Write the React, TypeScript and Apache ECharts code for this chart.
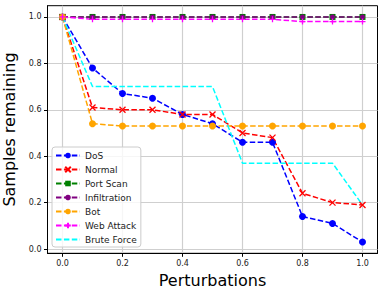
import React, { useEffect, useRef } from "react";
import * as echarts from "echarts";

const perturbations = [0.0, 0.1, 0.2, 0.3, 0.4, 0.5, 0.6, 0.7, 0.8, 0.9, 1.0];
const dos = [1.0, 0.78, 0.67, 0.65, 0.58, 0.54, 0.46, 0.46, 0.14, 0.11, 0.03];
const normal = [1.0, 0.61, 0.6, 0.6, 0.58, 0.58, 0.5, 0.48, 0.24, 0.2, 0.19];
const portScan = [1.0, 1.0, 1.0, 1.0, 1.0, 1.0, 1.0, 1.0, 1.0, 1.0, 1.0];
const infiltration = [1.0, 1.0, 1.0, 1.0, 1.0, 1.0, 1.0, 1.0, 1.0, 1.0, 1.0];
const bot = [1.0, 0.54, 0.53, 0.53, 0.53, 0.53, 0.53, 0.53, 0.53, 0.53, 0.53];
const webAttack = [1.0, 0.99, 0.99, 0.99, 0.99, 0.99, 0.99, 0.99, 0.98, 0.98, 0.98];
const bruteForce = [1.0, 0.7, 0.7, 0.7, 0.7, 0.7, 0.37, 0.37, 0.37, 0.37, 0.19];
const xTicks = [0.0, 0.2, 0.4, 0.6, 0.8, 1.0];
const yTicks = [0.0, 0.2, 0.4, 0.6, 0.8, 1.0];

const FONT = "DejaVu Sans";
const X_SYM = "path://M0,0 L10,10 M10,0 L0,10";
const PLUS_SYM = "path://M5,0 L5,10 M0,5 L10,5";

export default function App() {
  const ref = useRef<HTMLDivElement>(null);
  useEffect(() => {
    if (!ref.current) return;
    const chart = echarts.init(ref.current, undefined, { renderer: "svg" });
    const mk = (name: string, vals: number[], color: string, symbol: string, size: number, stroke = false) => ({
      name,
      type: "line",
      data: perturbations.map((x, i) => [x, vals[i]]),
      symbol,
      symbolSize: size,
      showSymbol: symbol !== "none",
      lineStyle: { color, width: 1.5, type: [5.5, 2.4] },
      itemStyle: stroke
        ? { color, borderColor: color, borderWidth: 1.3 }
        : { color, borderWidth: 0 },
      emphasis: { disabled: true },
    });
    chart.setOption({
      animation: false,
      textStyle: { fontFamily: FONT },
      grid: {
        left: 47.5,
        right: 7.5,
        top: 5.7,
        bottom: 41.7,
        show: true,
        borderColor: "#000",
        borderWidth: 1,
        backgroundColor: "transparent",
        containLabel: false,
        outerBoundsMode: "none",
      },
      xAxis: {
        type: "value",
        min: -0.05,
        max: 1.05,
        name: "Perturbations",
        nameLocation: "middle",
        nameGap: 19.5,
        nameTextStyle: { fontSize: 16, color: "#000", fontFamily: FONT },
        axisLine: { show: true, onZero: false, lineStyle: { color: "#000", width: 1 } },
        axisTick: { show: true, length: 3.5, customValues: xTicks, lineStyle: { color: "#000" } },
        axisLabel: {
          customValues: xTicks,
          fontSize: 8,
          color: "#222",
          margin: 6,
          formatter: (v: number) => v.toFixed(1),
        },
        splitLine: { show: true, lineStyle: { color: "#cfcfcf", width: 1.2 } },
      },
      yAxis: {
        type: "value",
        min: -0.0185,
        max: 1.0485,
        name: "Samples remaining",
        nameLocation: "middle",
        nameGap: 23.5,
        nameTextStyle: { fontSize: 16, color: "#000", fontFamily: FONT },
        axisLine: { show: true, onZero: false, lineStyle: { color: "#000", width: 1 } },
        axisTick: { show: true, length: 3.5, customValues: yTicks, lineStyle: { color: "#000" } },
        axisLabel: {
          customValues: yTicks,
          fontSize: 8,
          color: "#222",
          margin: 6,
          formatter: (v: number) => v.toFixed(1),
        },
        splitLine: { show: true, lineStyle: { color: "#cfcfcf", width: 1.2 } },
      },
      legend: {
        orient: "vertical",
        left: 52,
        top: 147,
        backgroundColor: "rgba(255,255,255,0.8)",
        borderColor: "#cccccc",
        borderWidth: 1,
        borderRadius: 3,
        padding: [4, 4, 3, 3],
        itemGap: 5,
        itemWidth: 24,
        itemHeight: 7,
        textStyle: { fontSize: 9, color: "#222", fontFamily: FONT },
        data: [
          "DoS",
          "Normal",
          "Port Scan",
          "Infiltration",
          "Bot",
          "Web Attack",
          { name: "Brute Force", itemStyle: { opacity: 0 } },
        ],
      },
      series: [
        mk("DoS", dos, "#0000ff", "circle", 7),
        mk("Normal", normal, "#ff0000", X_SYM, 6, true),
        mk("Port Scan", portScan, "#008000", "rect", 6),
        mk("Infiltration", infiltration, "#800080", "circle", 5),
        mk("Bot", bot, "#ffa500", "circle", 7),
        mk("Web Attack", webAttack, "#ff00ff", PLUS_SYM, 6, true),
        mk("Brute Force", bruteForce, "#00ffff", "none", 0),
      ],
    });
    return () => chart.dispose();
  }, []);
  return (
    <div
      ref={ref}
      style={{ position: "absolute", left: 0, top: 0, width: 385, height: 295 }}
    />
  );
}
